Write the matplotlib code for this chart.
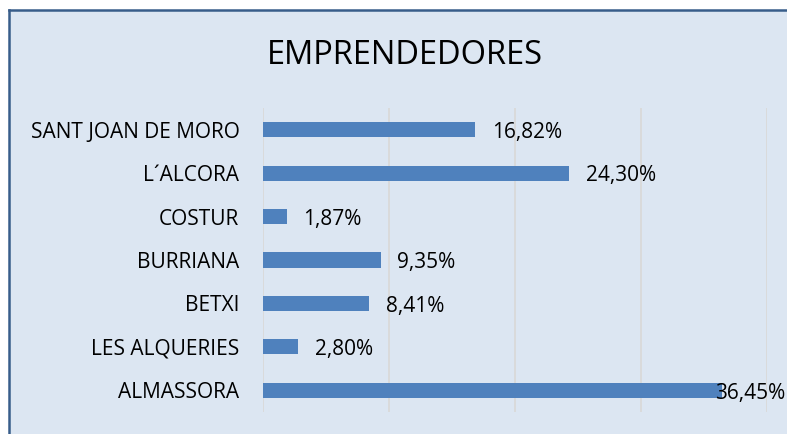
import matplotlib.pyplot as plt
from matplotlib.patches import Rectangle
from matplotlib.lines import Line2D

# data, top to bottom as in the chart
municipios = ['SANT JOAN DE MORO', 'L´ALCORA', 'COSTUR', 'BURRIANA',
              'BETXI', 'LES ALQUERIES', 'ALMASSORA']
porcentajes = [16.82, 24.30, 1.87, 9.35, 8.41, 2.80, 36.45]

plt.rcParams['font.family'] = ['Open Sans', 'DejaVu Sans']

W, H = 787, 434
fig = plt.figure(figsize=(W / 100, H / 100), dpi=100)
fig.patch.set_facecolor('white')

# chart area box (border runs off the right and bottom of the picture)
x0, y0 = 9 / W, 1 - 10 / H
fig.patches.append(Rectangle((x0, 0), 1 - x0, y0, transform=fig.transFigure,
                             facecolor='#DCE6F2', edgecolor='none', zorder=-10))
fig.add_artist(Line2D([x0, 1], [y0, y0], transform=fig.transFigure,
                      color='#385D8A', linewidth=1.8))
fig.add_artist(Line2D([x0, x0], [0, y0], transform=fig.transFigure,
                      color='#385D8A', linewidth=1.8))

ax = fig.add_axes([263 / W, 1 - 412 / H, (767 - 263) / W, (412 - 108) / H])
ax.set_facecolor('none')

y = range(len(municipios))
ax.barh(y, porcentajes, height=0.35, color='#4F81BD', zorder=2)
ax.set_ylim(len(municipios) - 0.5, -0.5)
ax.set_xlim(0, 40)
ax.set_xticks([0, 10, 20, 30, 40])
ax.set_xticklabels([])
ax.grid(axis='x', color='#D9D9D9', linewidth=1.3, zorder=1)
ax.set_yticks(list(y))
ax.set_yticklabels(municipios, fontsize=15)
ax.tick_params(axis='both', length=0)
ax.tick_params(axis='y', pad=17)
for s in ax.spines.values():
    s.set_visible(False)

for i, v in enumerate(porcentajes):
    txt = f'{v:.2f}%'.replace('.', ',')
    off = 12 if v < 35 else -5
    ax.annotate(txt, (v, i), xytext=(off, -2), textcoords='offset points',
                va='center', ha='left', fontsize=15, zorder=3,
                annotation_clip=False)

fig.text(405 / W, 1 - 55 / H, 'EMPRENDEDORES', ha='center', va='center',
         fontsize=23.5)

plt.savefig('out.png', dpi=100)
